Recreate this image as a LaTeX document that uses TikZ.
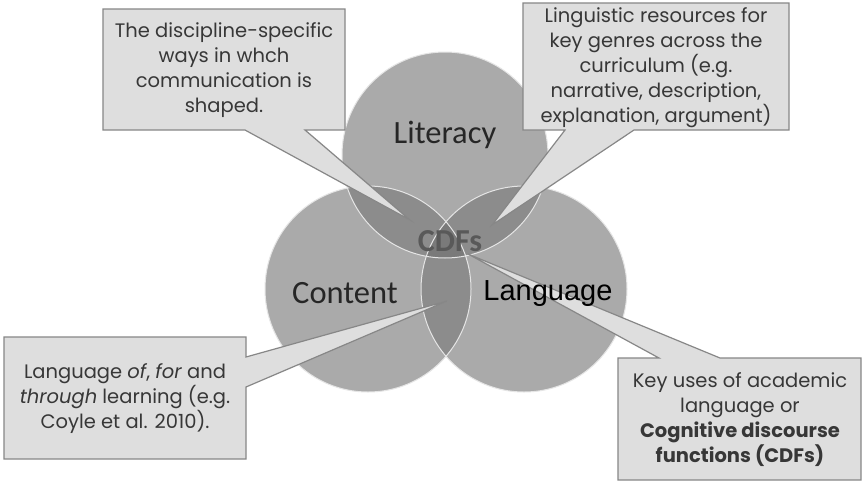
\documentclass[tikz,border=0pt]{standalone}
\usepackage{fontspec}
\setmainfont{Poppins}
\newfontfamily\calibri{Carlito}
\newfontfamily\arial{Liberation Sans}
\usepackage{tikz}
\definecolor{onegray}{RGB}{170, 170, 170}
\definecolor{twogray}{RGB}{140, 140, 140}
\definecolor{threegray}{RGB}{122, 122, 122}
\definecolor{boxfill}{RGB}{222, 222, 222}
\definecolor{boxline}{RGB}{135, 135, 135}
\definecolor{ink}{RGB}{55, 55, 55}
\newcommand{\rad}{103pt}

\begin{document}
\begin{tikzpicture}[x=1pt, y=-1pt,
  callout/.style={fill=boxfill, draw=boxline, line width=1.2pt},
  boxtext/.style={align=center, text=ink, font=\fontsize{19.5}{25}\selectfont},
  circlabel/.style={anchor=base, text=black!85, font=\calibri\fontsize{32.5}{34}\selectfont}]

  \useasboundingbox[fill=white] (0, 0) rectangle (864, 493);

  \coordinate (lit) at (445, 155);
  \coordinate (con) at (368, 289);
  \coordinate (lan) at (524, 289);

  \foreach \c in {lit, con, lan} {
    \fill[onegray] (\c) circle (\rad);
  }

  \begin{scope}
    \clip (lit) circle (\rad);
    \fill[twogray] (con) circle (\rad);
    \fill[twogray] (lan) circle (\rad);
  \end{scope}

  \begin{scope}
    \clip (con) circle (\rad);
    \fill[twogray] (lan) circle (\rad);
  \end{scope}

  \begin{scope}
    \clip (lit) circle (\rad);
    \clip (con) circle (\rad);
    \fill[threegray] (lan) circle (\rad);
  \end{scope}

  \foreach \c in {lit, con, lan} {
    \draw[white!70!onegray, line width=1pt] (\c) circle (\rad);
  }

  % callouts
  \coordinate (tipdisc) at (410, 220);
  \coordinate (tipgenre) at (492, 225);
  \coordinate (tiplearn) at (447, 301);
  \coordinate (tipcdf) at (468, 254);

  \draw[callout] (103, 9) -- (345, 9) -- (345, 130) -- (305, 130) -- (tipdisc)
    -- (245, 130) -- (103, 130) -- cycle;
  \draw[callout] (523, 3) -- (789, 3) -- (789, 130) -- (634, 130) -- (tipgenre)
    -- (565, 130) -- (523, 130) -- cycle;
  \draw[callout] (4, 337) -- (246, 337) -- (246, 357) -- (tiplearn)
    -- (246, 387) -- (246, 459) -- (4, 459) -- cycle;
  \draw[callout] (618, 358) -- (659, 358) -- (tipcdf) -- (720, 358)
    -- (861, 358) -- (861, 480) -- (618, 480) -- cycle;

  \node[boxtext] (disc) at (224, 70)
    {The discipline-specific\\ways in whch\\communication is\\shaped.};
  \node[boxtext] (genre) at (656, 68)
    {Linguistic resources for\\key genres across the\\curriculum (e.g.\\narrative, description,\\explanation, argument)};
  \node[boxtext] (learn) at (125, 399)
    {Language \textit{of}, \textit{for} and\\\textit{through} learning (e.g.\\Coyle et al. 2010).};
  \node[boxtext] (cdf) at (740, 420)
    {Key uses of academic\\language or\\\textbf{Cognitive discourse}\\\textbf{functions (CDFs)}};

  \node[circlabel] (litlabel) at (445, 143) {Literacy};
  \node[circlabel] (conlabel) at (345, 303) {Content};
  \node[circlabel, font=\arial\fontsize{29}{31}\selectfont, text=black] (lanlabel) at (548, 300) {Language};
  \node[circlabel, text=black!65, font=\calibri\bfseries\fontsize{32}{34}\selectfont] (cdflabel) at (450, 251) {CDFs};

\end{tikzpicture}
\end{document}
